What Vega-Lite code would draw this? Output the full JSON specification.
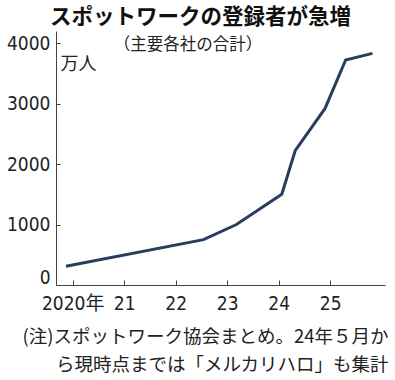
{
  "$schema": "https://vega.github.io/schema/vega-lite/v6.json",
  "width": 329,
  "height": 254,
  "autosize": "none",
  "padding": {"left": 56, "top": 31, "right": 10, "bottom": 95},
  "background": "white",
  "title": {
    "text": "スポットワークの登録者が急増",
    "font": "Noto Sans CJK JP",
    "fontSize": 21.5,
    "fontWeight": "bold",
    "color": "#111111",
    "anchor": "middle",
    "dx": -20,
    "offset": 3
  },
  "config": {
    "view": {"stroke": null},
    "axis": {
      "domainColor": "#444444",
      "tickColor": "#444444",
      "labelColor": "#222222",
      "titleColor": "#222222",
      "grid": false
    }
  },
  "layer": [
    {
      "data": {
        "values": [
          {"year": 2019.87, "value": 310},
          {"year": 2022.54, "value": 750},
          {"year": 2023.18, "value": 1000},
          {"year": 2024.06, "value": 1500},
          {"year": 2024.32, "value": 2220},
          {"year": 2024.9, "value": 2920},
          {"year": 2025.3, "value": 3720},
          {"year": 2025.82, "value": 3830}
        ]
      },
      "mark": {"type": "line", "color": "#283e5e", "strokeWidth": 3, "strokeJoin": "miter"},
      "encoding": {
        "x": {
          "field": "year",
          "type": "quantitative",
          "scale": {"domain": [2019.676, 2026.064], "nice": false, "zero": false},
          "axis": {
            "values": [2020, 2021, 2022, 2023, 2024, 2025],
            "labelExpr": "datum.value == 2020 ? '2020年' : '' + (datum.value - 2000)",
            "labelFont": "DejaVu Sans Condensed, Noto Sans CJK JP",
            "labelFontSize": 19,
            "labelPadding": 14,
            "tickSize": -5,
            "labelFlush": false,
            "labelOverlap": false,
            "title": ["(注)スポットワーク協会まとめ。24年５月か", "ら現時点までは「メルカリハロ」も集計"],
            "titleFont": "Noto Sans CJK JP",
            "titleFontSize": 18.5,
            "titleFontWeight": "normal",
            "titleAlign": "right",
            "titleAnchor": "end",
            "titleBaseline": "top",
            "titleLineHeight": 28.5,
            "titleX": 332,
            "titleY": 42
          }
        },
        "y": {
          "field": "value",
          "type": "quantitative",
          "scale": {"domain": [0, 4200], "nice": false},
          "axis": {
            "values": [0, 1000, 2000, 3000, 4000],
            "format": "d",
            "labelFont": "DejaVu Sans Condensed, Noto Sans CJK JP",
            "labelFontSize": 19,
            "labelPadding": 10,
            "tickSize": -4,
            "labelFlush": true,
            "labelFlushOffset": 2,
            "labelOverlap": false,
            "title": "万人",
            "titleFont": "Noto Sans CJK JP",
            "titleFontSize": 18,
            "titleFontWeight": "normal",
            "titleAngle": 0,
            "titleAlign": "left",
            "titleBaseline": "middle",
            "titleX": 4,
            "titleY": 33
          }
        }
      }
    },
    {
      "data": {"values": [{"note": "（主要各社の合計）"}]},
      "mark": {"type": "text", "font": "Noto Sans CJK JP", "fontSize": 16.5, "color": "#222222", "align": "center", "baseline": "middle"},
      "encoding": {
        "x": {"datum": 2022.24, "type": "quantitative"},
        "y": {"datum": 3967, "type": "quantitative"},
        "text": {"field": "note"}
      }
    }
  ]
}
